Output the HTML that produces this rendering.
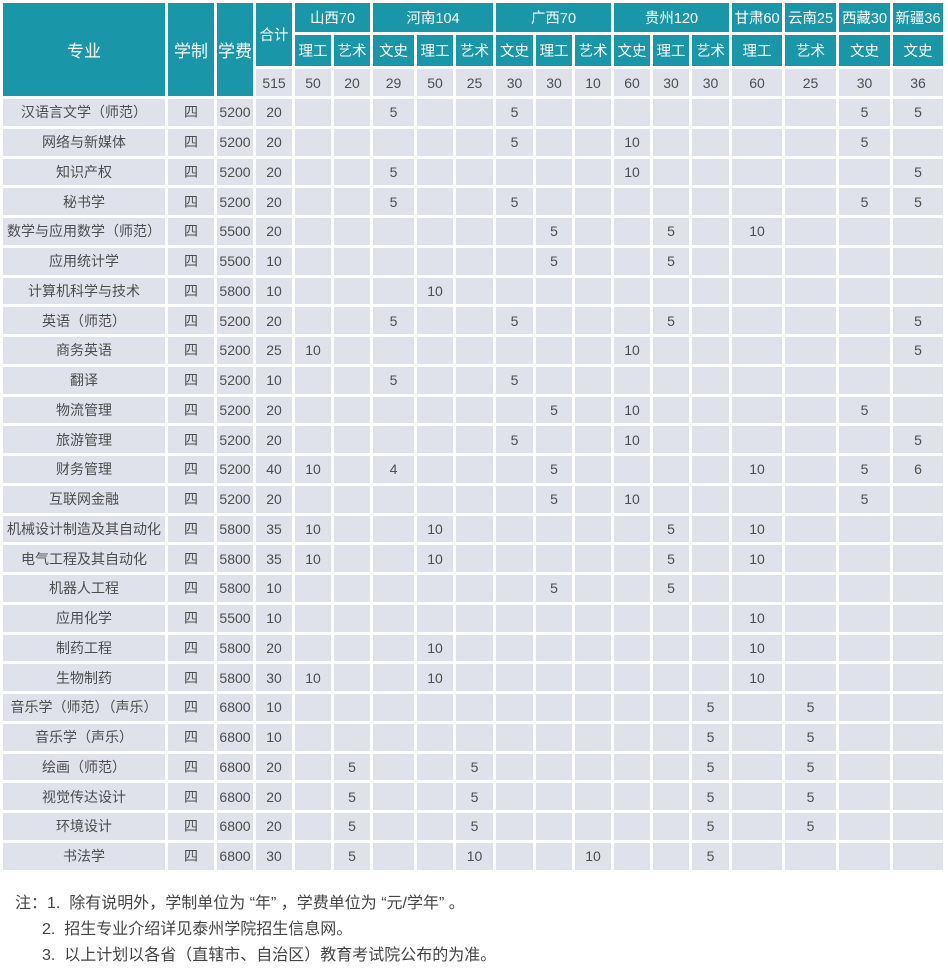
<!DOCTYPE html>
<html><head><meta charset="utf-8"><style>
html,body{margin:0;padding:0;background:#fff;width:948px;height:969px;overflow:hidden}
table{position:absolute;left:3px;top:3px;border-collapse:separate;border-spacing:0;table-layout:fixed;width:943px;font-family:"Liberation Sans","Noto Sans CJK SC",sans-serif}
td{padding:0;text-align:center;vertical-align:middle;border-right:3px solid #fff;border-bottom:3px solid #fff;background:#e0e2eb;color:#4d4d4d;font-size:14px;white-space:nowrap;overflow:hidden;box-sizing:border-box}
td.h{background:#1a96a9;color:#fff;font-size:14.5px}
td.big{font-size:17px}
tr.r1 td{height:32px}
tr.r2 td{height:34px}
tr.r3 td{height:30px;font-size:14px}
tbody tr td{height:29.75px}
.note{position:absolute;font-family:"Liberation Sans","Noto Sans CJK SC",sans-serif;font-size:16px;color:#444;white-space:nowrap}
</style></head><body>
<table>
<colgroup><col style="width:165px"><col style="width:49px"><col style="width:39px"><col style="width:39px"><col style="width:39px"><col style="width:39px"><col style="width:44px"><col style="width:39px"><col style="width:40px"><col style="width:40px"><col style="width:39px"><col style="width:39px"><col style="width:39px"><col style="width:39px"><col style="width:40px"><col style="width:53px"><col style="width:54px"><col style="width:54px"><col style="width:53px"></colgroup>
<thead>
<tr class="r1"><td class="h big" rowspan="3">专业</td><td class="h big" rowspan="3">学制</td><td class="h big" rowspan="3">学费</td><td class="h" rowspan="2">合计</td><td class="h" colspan="2">山西70</td><td class="h" colspan="3">河南104</td><td class="h" colspan="3">广西70</td><td class="h" colspan="3">贵州120</td><td class="h">甘肃60</td><td class="h">云南25</td><td class="h">西藏30</td><td class="h">新疆36</td></tr>
<tr class="r2"><td class="h">理工</td><td class="h">艺术</td><td class="h">文史</td><td class="h">理工</td><td class="h">艺术</td><td class="h">文史</td><td class="h">理工</td><td class="h">艺术</td><td class="h">文史</td><td class="h">理工</td><td class="h">艺术</td><td class="h">理工</td><td class="h">艺术</td><td class="h">文史</td><td class="h">文史</td></tr>
<tr class="r3"><td>515</td><td>50</td><td>20</td><td>29</td><td>50</td><td>25</td><td>30</td><td>30</td><td>10</td><td>60</td><td>30</td><td>30</td><td>60</td><td>25</td><td>30</td><td>36</td></tr>
</thead>
<tbody>
<tr><td>汉语言文学（师范）</td><td>四</td><td>5200</td><td>20</td><td></td><td></td><td>5</td><td></td><td></td><td>5</td><td></td><td></td><td></td><td></td><td></td><td></td><td></td><td>5</td><td>5</td></tr>
<tr><td>网络与新媒体</td><td>四</td><td>5200</td><td>20</td><td></td><td></td><td></td><td></td><td></td><td>5</td><td></td><td></td><td>10</td><td></td><td></td><td></td><td></td><td>5</td><td></td></tr>
<tr><td>知识产权</td><td>四</td><td>5200</td><td>20</td><td></td><td></td><td>5</td><td></td><td></td><td></td><td></td><td></td><td>10</td><td></td><td></td><td></td><td></td><td></td><td>5</td></tr>
<tr><td>秘书学</td><td>四</td><td>5200</td><td>20</td><td></td><td></td><td>5</td><td></td><td></td><td>5</td><td></td><td></td><td></td><td></td><td></td><td></td><td></td><td>5</td><td>5</td></tr>
<tr><td>数学与应用数学（师范）</td><td>四</td><td>5500</td><td>20</td><td></td><td></td><td></td><td></td><td></td><td></td><td>5</td><td></td><td></td><td>5</td><td></td><td>10</td><td></td><td></td><td></td></tr>
<tr><td>应用统计学</td><td>四</td><td>5500</td><td>10</td><td></td><td></td><td></td><td></td><td></td><td></td><td>5</td><td></td><td></td><td>5</td><td></td><td></td><td></td><td></td><td></td></tr>
<tr><td>计算机科学与技术</td><td>四</td><td>5800</td><td>10</td><td></td><td></td><td></td><td>10</td><td></td><td></td><td></td><td></td><td></td><td></td><td></td><td></td><td></td><td></td><td></td></tr>
<tr><td>英语（师范）</td><td>四</td><td>5200</td><td>20</td><td></td><td></td><td>5</td><td></td><td></td><td>5</td><td></td><td></td><td></td><td>5</td><td></td><td></td><td></td><td></td><td>5</td></tr>
<tr><td>商务英语</td><td>四</td><td>5200</td><td>25</td><td>10</td><td></td><td></td><td></td><td></td><td></td><td></td><td></td><td>10</td><td></td><td></td><td></td><td></td><td></td><td>5</td></tr>
<tr><td>翻译</td><td>四</td><td>5200</td><td>10</td><td></td><td></td><td>5</td><td></td><td></td><td>5</td><td></td><td></td><td></td><td></td><td></td><td></td><td></td><td></td><td></td></tr>
<tr><td>物流管理</td><td>四</td><td>5200</td><td>20</td><td></td><td></td><td></td><td></td><td></td><td></td><td>5</td><td></td><td>10</td><td></td><td></td><td></td><td></td><td>5</td><td></td></tr>
<tr><td>旅游管理</td><td>四</td><td>5200</td><td>20</td><td></td><td></td><td></td><td></td><td></td><td>5</td><td></td><td></td><td>10</td><td></td><td></td><td></td><td></td><td></td><td>5</td></tr>
<tr><td>财务管理</td><td>四</td><td>5200</td><td>40</td><td>10</td><td></td><td>4</td><td></td><td></td><td></td><td>5</td><td></td><td></td><td></td><td></td><td>10</td><td></td><td>5</td><td>6</td></tr>
<tr><td>互联网金融</td><td>四</td><td>5200</td><td>20</td><td></td><td></td><td></td><td></td><td></td><td></td><td>5</td><td></td><td>10</td><td></td><td></td><td></td><td></td><td>5</td><td></td></tr>
<tr><td>机械设计制造及其自动化</td><td>四</td><td>5800</td><td>35</td><td>10</td><td></td><td></td><td>10</td><td></td><td></td><td></td><td></td><td></td><td>5</td><td></td><td>10</td><td></td><td></td><td></td></tr>
<tr><td>电气工程及其自动化</td><td>四</td><td>5800</td><td>35</td><td>10</td><td></td><td></td><td>10</td><td></td><td></td><td></td><td></td><td></td><td>5</td><td></td><td>10</td><td></td><td></td><td></td></tr>
<tr><td>机器人工程</td><td>四</td><td>5800</td><td>10</td><td></td><td></td><td></td><td></td><td></td><td></td><td>5</td><td></td><td></td><td>5</td><td></td><td></td><td></td><td></td><td></td></tr>
<tr><td>应用化学</td><td>四</td><td>5500</td><td>10</td><td></td><td></td><td></td><td></td><td></td><td></td><td></td><td></td><td></td><td></td><td></td><td>10</td><td></td><td></td><td></td></tr>
<tr><td>制药工程</td><td>四</td><td>5800</td><td>20</td><td></td><td></td><td></td><td>10</td><td></td><td></td><td></td><td></td><td></td><td></td><td></td><td>10</td><td></td><td></td><td></td></tr>
<tr><td>生物制药</td><td>四</td><td>5800</td><td>30</td><td>10</td><td></td><td></td><td>10</td><td></td><td></td><td></td><td></td><td></td><td></td><td></td><td>10</td><td></td><td></td><td></td></tr>
<tr><td>音乐学（师范）（声乐）</td><td>四</td><td>6800</td><td>10</td><td></td><td></td><td></td><td></td><td></td><td></td><td></td><td></td><td></td><td></td><td>5</td><td></td><td>5</td><td></td><td></td></tr>
<tr><td>音乐学（声乐）</td><td>四</td><td>6800</td><td>10</td><td></td><td></td><td></td><td></td><td></td><td></td><td></td><td></td><td></td><td></td><td>5</td><td></td><td>5</td><td></td><td></td></tr>
<tr><td>绘画（师范）</td><td>四</td><td>6800</td><td>20</td><td></td><td>5</td><td></td><td></td><td>5</td><td></td><td></td><td></td><td></td><td></td><td>5</td><td></td><td>5</td><td></td><td></td></tr>
<tr><td>视觉传达设计</td><td>四</td><td>6800</td><td>20</td><td></td><td>5</td><td></td><td></td><td>5</td><td></td><td></td><td></td><td></td><td></td><td>5</td><td></td><td>5</td><td></td><td></td></tr>
<tr><td>环境设计</td><td>四</td><td>6800</td><td>20</td><td></td><td>5</td><td></td><td></td><td>5</td><td></td><td></td><td></td><td></td><td></td><td>5</td><td></td><td>5</td><td></td><td></td></tr>
<tr><td>书法学</td><td>四</td><td>6800</td><td>30</td><td></td><td>5</td><td></td><td></td><td>10</td><td></td><td></td><td>10</td><td></td><td></td><td>5</td><td></td><td></td><td></td><td></td></tr>
</tbody>
</table>
<div class="note" style="left:15px;top:889px">注：1. &nbsp;除有说明外，学制单位为 “年” ，学费单位为 “元/学年” 。</div>
<div class="note" style="left:42px;top:915px">2. &nbsp;招生专业介绍详见泰州学院招生信息网。</div>
<div class="note" style="left:42px;top:941px">3. &nbsp;以上计划以各省（直辖市、自治区）教育考试院公布的为准。</div>
</body></html>
